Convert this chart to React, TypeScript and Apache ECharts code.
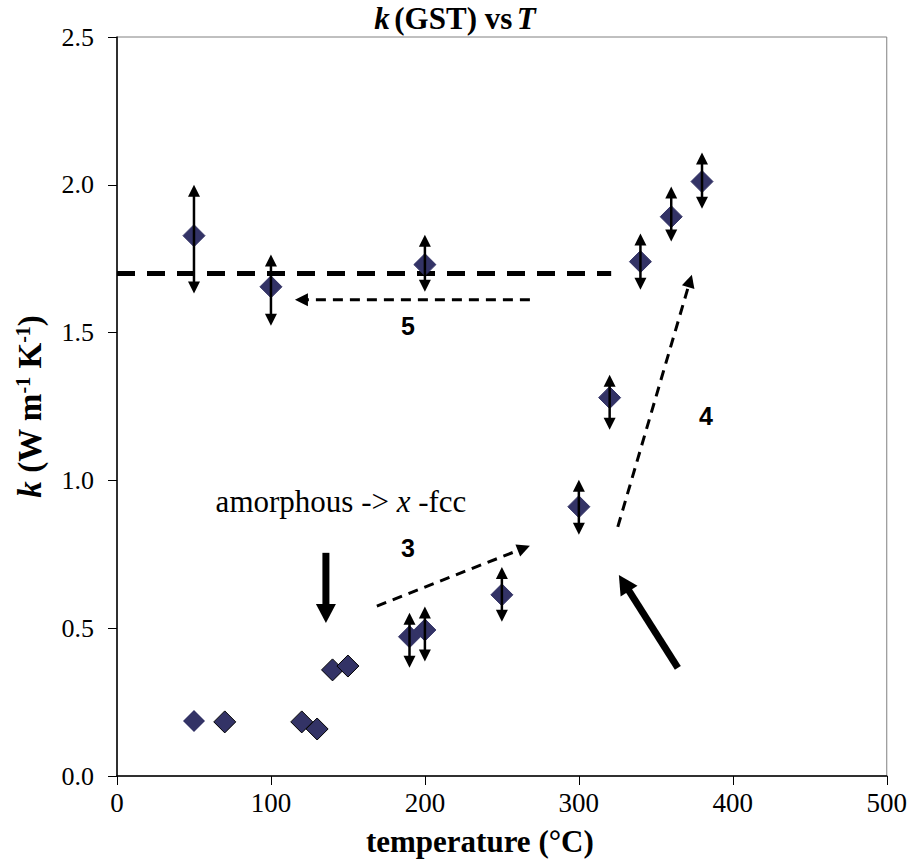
import React, { useEffect, useRef } from 'react';
import * as echarts from 'echarts';

// ---- data ----
const xTickValues = [0, 100, 200, 300, 400, 500];
const yTickValues = [0, 0.5, 1.0, 1.5, 2.0, 2.5];

// points without error bars
const plainT = [50, 70, 120, 130, 140, 150];
const plainK = [0.186, 0.183, 0.183, 0.159, 0.359, 0.372];

// points with error bars
const errT = [50, 100, 200, 190, 200, 250, 300, 320, 340, 360, 380];
const errK = [1.828, 1.655, 1.73, 0.471, 0.494, 0.613, 0.911, 1.28, 1.74, 1.892, 2.011];
const errLow = [1.632, 1.523, 1.638, 0.366, 0.387, 0.522, 0.816, 1.171, 1.645, 1.808, 1.919];
const errHigh = [2.0, 1.764, 1.831, 0.552, 0.573, 0.707, 1.002, 1.357, 1.835, 1.994, 2.109];

// horizontal reference line k = 1.7
const refLineT = [0, 321];
const refLineK = [1.7, 1.7];

// dashed annotation arrows: [tailT, tailK, tipT, tipK]
const arrow3 = [168.8, 0.575, 268.2, 0.779];
const arrow4 = [325.3, 0.843, 373.4, 1.696];
const arrow5 = [268.2, 1.611, 115.6, 1.611];
// solid annotation arrows
const arrowDown = [135.7, 0.755, 135.7, 0.518];
const arrowDiag = [364.3, 0.366, 326.0, 0.68];

// annotation labels
const labelT = [189, 189, 382.5];
const labelK = [1.523, 0.772, 1.219];
const labelText = ['5', '3', '4'];
const noteT = 145.5;
const noteK = 0.928;

const SERIF = 'Liberation Serif';
const SANS = 'Liberation Sans';

function arrowShapes(p1: number[], p2: number[], width: number, headLen: number, headW: number, dash: number[] | null) {
  const dx = p2[0] - p1[0];
  const dy = p2[1] - p1[1];
  const L = Math.hypot(dx, dy);
  const ux = dx / L;
  const uy = dy / L;
  const bx = p2[0] - ux * headLen;
  const by = p2[1] - uy * headLen;
  const nx = -uy;
  const ny = ux;
  return [
    {
      type: 'line',
      shape: { x1: p1[0], y1: p1[1], x2: bx + ux, y2: by + uy },
      style: { stroke: '#000', lineWidth: width, lineDash: dash || undefined, lineCap: 'butt' },
    },
    {
      type: 'polygon',
      shape: {
        points: [
          [p2[0], p2[1]],
          [bx + (nx * headW) / 2, by + (ny * headW) / 2],
          [bx - (nx * headW) / 2, by - (ny * headW) / 2],
        ],
      },
      style: { fill: '#000' },
    },
  ];
}

export default function App() {
  const ref = useRef<HTMLDivElement>(null);

  useEffect(() => {
    if (!ref.current) return;
    const chart = echarts.init(ref.current, undefined, { renderer: 'svg' });

    const plainData = plainT.map((t, i) =>
      i === 0
        ? { value: [t, plainK[i]], itemStyle: { borderWidth: 0 } }
        : { value: [t, plainK[i]] }
    );
    const errPointData = errT.map((t, i) => [t, errK[i]]);
    const errBarData = errT.map((t, i) => [t, errLow[i], errHigh[i]]);
    const dashedArrows = [arrow3, arrow4, arrow5];
    const solidArrows = [arrowDown, arrowDiag];

    const option: any = {
      animation: false,
      backgroundColor: '#fff',
      textStyle: { fontFamily: SERIF },
      title: {
        left: 'center',
        top: 0,
        padding: 0,
        text: '{i|k} {b|(GST) vs} {i|T}',
        textStyle: {
          rich: {
            i: { fontFamily: SERIF, fontSize: 31, fontWeight: 'bold', fontStyle: 'italic', color: '#000', lineHeight: 36 },
            b: { fontFamily: SERIF, fontSize: 31, fontWeight: 'bold', color: '#000', lineHeight: 36 },
          },
        },
      },
      grid: {
        left: 117,
        right: 23,
        top: 37,
        bottom: 86,
        show: true,
        borderColor: '#808080',
        borderWidth: 1,
        backgroundColor: 'transparent',
      },
      xAxis: {
        type: 'value',
        min: xTickValues[0],
        max: xTickValues[xTickValues.length - 1],
        interval: 100,
        name: 'temperature (°C)',
        nameLocation: 'middle',
        nameGap: 50,
        nameTextStyle: {
          fontFamily: SERIF,
          fontSize: 31,
          fontWeight: 'bold',
          color: '#000',
          padding: [0, 44, 0, 0],
        },
        axisLine: { show: true, lineStyle: { color: '#000', width: 1.5 } },
        axisTick: { show: true, length: 9, lineStyle: { color: '#000', width: 1 } },
        splitLine: { show: false },
        axisLabel: { fontFamily: SERIF, fontSize: 27, color: '#000', margin: 13 },
      },
      yAxis: {
        type: 'value',
        min: yTickValues[0],
        max: yTickValues[yTickValues.length - 1],
        interval: 0.5,
        name: '{i|k}{b| (W m}{s|-1}{b| K}{s|-1}{b|)}',
        nameLocation: 'middle',
        nameGap: 70,
        nameTextStyle: {
          rich: {
            i: { fontFamily: SERIF, fontSize: 33, fontWeight: 'bold', fontStyle: 'italic', color: '#000', lineHeight: 34 },
            b: { fontFamily: SERIF, fontSize: 33, fontWeight: 'bold', color: '#000', lineHeight: 34 },
            s: { fontFamily: SERIF, fontSize: 20, fontWeight: 'bold', color: '#000', verticalAlign: 'top', lineHeight: 34, padding: [0, 0, 16, 0] },
          },
        },
        axisLine: { show: true, lineStyle: { color: '#000', width: 1.5 } },
        axisTick: { show: true, length: 9, lineStyle: { color: '#000', width: 1 } },
        splitLine: { show: false },
        axisLabel: {
          fontFamily: SERIF,
          fontSize: 26,
          color: '#000',
          margin: 23,
          formatter: (v: number) => v.toFixed(1),
        },
      },
      series: [
        {
          type: 'line',
          data: refLineT.map((t, i) => [t, refLineK[i]]),
          symbol: 'none',
          lineStyle: { color: '#000', width: 5, type: [18, 12] },
          z: 2,
        },
        {
          type: 'scatter',
          data: plainData,
          symbol: 'diamond',
          symbolSize: 22,
          itemStyle: { color: '#333366', borderColor: '#000', borderWidth: 1, opacity: 1 },
          z: 3,
        },
        {
          type: 'scatter',
          data: errPointData,
          symbol: 'diamond',
          symbolSize: 22,
          itemStyle: { color: '#333366', borderColor: '#333366', borderWidth: 1, opacity: 1 },
          z: 3,
        },
        {
          type: 'custom',
          data: errBarData,
          encode: { x: 0, y: [1, 2] },
          z: 4,
          clip: false,
          renderItem: (_p: any, api: any) => {
            const x = api.value(0);
            const pLo = api.coord([x, api.value(1)]);
            const pHi = api.coord([x, api.value(2)]);
            const hw = 12;
            const hl = 12;
            return {
              type: 'group',
              children: [
                {
                  type: 'line',
                  shape: { x1: pLo[0], y1: pLo[1] - hl + 1, x2: pHi[0], y2: pHi[1] + hl - 1 },
                  style: { stroke: '#000', lineWidth: 2.5 },
                },
                {
                  type: 'polygon',
                  shape: { points: [[pHi[0], pHi[1]], [pHi[0] - hw / 2, pHi[1] + hl], [pHi[0] + hw / 2, pHi[1] + hl]] },
                  style: { fill: '#000' },
                },
                {
                  type: 'polygon',
                  shape: { points: [[pLo[0], pLo[1]], [pLo[0] - hw / 2, pLo[1] - hl], [pLo[0] + hw / 2, pLo[1] - hl]] },
                  style: { fill: '#000' },
                },
              ],
            };
          },
        },
        {
          type: 'custom',
          data: dashedArrows,
          encode: { x: [0, 2], y: [1, 3] },
          z: 5,
          clip: false,
          renderItem: (_p: any, api: any) => {
            const p1 = api.coord([api.value(0), api.value(1)]);
            const p2 = api.coord([api.value(2), api.value(3)]);
            return { type: 'group', children: arrowShapes(p1, p2, 3, 13, 13, [10, 7]) };
          },
        },
        {
          type: 'custom',
          data: solidArrows,
          encode: { x: [0, 2], y: [1, 3] },
          z: 5,
          clip: false,
          renderItem: (_p: any, api: any) => {
            const p1 = api.coord([api.value(0), api.value(1)]);
            const p2 = api.coord([api.value(2), api.value(3)]);
            return { type: 'group', children: arrowShapes(p1, p2, 7, 19, 20, null) };
          },
        },
        {
          type: 'custom',
          data: labelT.map((t, i) => [t, labelK[i]]),
          z: 6,
          clip: false,
          renderItem: (p: any, api: any) => {
            const pt = api.coord([api.value(0), api.value(1)]);
            return {
              type: 'text',
              x: pt[0],
              y: pt[1],
              style: {
                text: labelText[p.dataIndex],
                fontFamily: SANS,
                fontSize: 25,
                fontWeight: 'bold',
                fill: '#000',
                align: 'center',
                verticalAlign: 'middle',
              },
            };
          },
        },
        {
          type: 'custom',
          data: [[noteT, noteK]],
          z: 6,
          clip: false,
          renderItem: (_p: any, api: any) => {
            const pt = api.coord([api.value(0), api.value(1)]);
            return {
              type: 'text',
              x: pt[0],
              y: pt[1],
              style: {
                text: '{r|amorphous -> }{i|x}{r| -fcc}',
                align: 'center',
                verticalAlign: 'middle',
                rich: {
                  r: { fontFamily: SERIF, fontSize: 31, fill: '#000', color: '#000' },
                  i: { fontFamily: SERIF, fontSize: 31, fontStyle: 'italic', fill: '#000', color: '#000' },
                },
              },
            };
          },
        },
      ],
    };

    chart.setOption(option);
    return () => chart.dispose();
  }, []);

  return (
    <div
      ref={ref}
      style={{ position: 'absolute', left: 0, top: 0, width: 910, height: 862, background: '#fff' }}
    />
  );
}
